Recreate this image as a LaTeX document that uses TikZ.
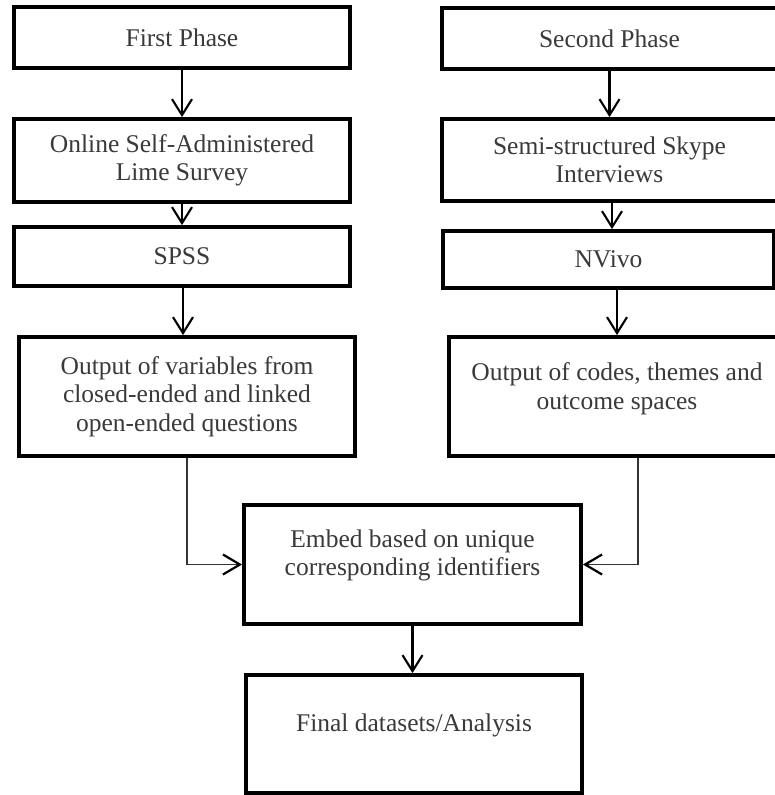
\documentclass[tikz,border=0pt]{standalone}
\usepackage{fontspec}
\setmainfont{Liberation Serif}
\usetikzlibrary{arrows.meta}
\definecolor{txtgray}{HTML}{3A3A3A}
\tikzset{
  box/.style={draw=black, line width=3.8pt, inner sep=0pt, fill=white,
    font=\fontsize{25.5}{28.5}\selectfont, text=txtgray, align=center},
  txt/.style={font=\fontsize{25.5}{28.5}\selectfont, text=txtgray, align=center, inner sep=0pt},
  arr/.style={line width=2.1pt, -{Straight Barb[length=16pt,width=20pt,line width=2.1pt]}},
  joinarr/.style={line width=1.7pt, black!80, -{Straight Barb[length=17pt,width=20pt,line width=2.2pt,black]}}
}
\begin{document}
\begin{tikzpicture}[x=1pt,y=-1pt]
\useasboundingbox (0,0) rectangle (775,795);
\clip (0,0) rectangle (775,795);
% left column
\node[box, minimum width=336pt, minimum height=61pt] (p1) at (182,37.5) {First Phase};
\node[box, minimum width=336pt, minimum height=83pt] (ls) at (182,160.5) {Online Self-Administered\\Lime Survey};
\node[box, minimum width=336pt, minimum height=59pt] (spss) at (182,256.5) {SPSS};
\node[box, minimum width=336pt, minimum height=119pt] (ov) at (187,396.5) {Output of variables from\\closed-ended and linked\\open-ended questions};
% right column
\node[box, minimum width=335pt, minimum height=61pt] (p2) at (609.5,38.5) {Second Phase};
\node[box, minimum width=335pt, minimum height=82pt] (sk) at (609.5,160) {Semi-structured Skype\\Interviews};
\node[box, minimum width=331pt, minimum height=57pt] (nv) at (608.5,259.5) {NVivo};
\node[box, minimum width=336pt, minimum height=119pt,
  label={[txt,yshift=8pt]center:Output of codes, themes and\\outcome spaces}] (oc) at (617,396.5) {};
% bottom
\node[box, minimum width=337pt, minimum height=119pt,
  label={[txt,yshift=9pt]center:Embed based on unique\\corresponding identifiers}] (em) at (412.5,564.5) {};
\node[box, minimum width=336pt, minimum height=118pt,
  label={[txt,yshift=9pt]center:Final datasets/Analysis}] (fd) at (414,734) {};
% arrows
\draw[arr] (p1.south) -- (p1.south |- ls.north);
\draw[arr] (ls.south) -- (ls.south |- spss.north);
\draw[arr] ([xshift=1pt]spss.south) -- ([xshift=1pt]spss.south |- ov.north);
\draw[arr] (p2.south) -- (p2.south |- sk.north);
\draw[arr] ([xshift=2.5pt]sk.south) -- ([xshift=2.5pt]sk.south |- nv.north);
\draw[arr] (oc.north |- nv.south) -- (oc.north);
\draw[joinarr] (ov.south) |- (em.west);
\draw[joinarr] ([xshift=21pt]oc.south) |- (em.east);
\draw[arr] (em.south) -- (em.south |- fd.north);
\end{tikzpicture}
\end{document}
